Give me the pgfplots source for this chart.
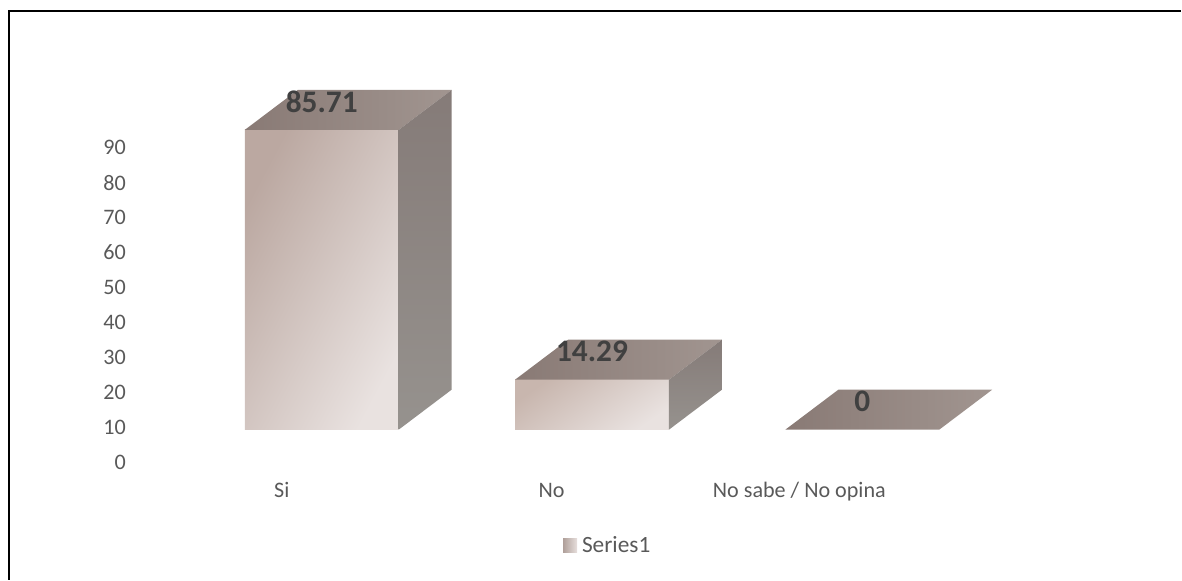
\documentclass[border=0pt]{standalone}
\usepackage{pgfplots}
\usepackage{fontspec}
\setmainfont{Carlito}
\pgfplotsset{compat=1.18}
\definecolor{ticktext}{HTML}{595959}
\definecolor{labeltext}{HTML}{404040}
\definecolor{legendA}{HTML}{B0A09A}
\definecolor{legendB}{HTML}{E8E0DE}
\definecolor{frontA}{HTML}{BBA8A1}
\definecolor{frontB}{HTML}{E9E2E0}
\definecolor{frontC}{HTML}{C8B6AE}
\definecolor{topA}{HTML}{897A75}
\definecolor{topB}{HTML}{A19590}
\definecolor{sideA}{HTML}{857B78}
\definecolor{sideB}{HTML}{96928E}
\begin{document}
\begin{tikzpicture}[x=1pt,y=1pt]
\begin{axis}[
  at={(0,0)}, anchor=south west,
  scale only axis, width=886.5pt, height=435pt,
  xmin=-1.1904, xmax=3.1793, ymin=-42.857, ymax=122.857,
  axis line style={draw=none}, tick style={draw=none},
  major tick length=0pt,
  clip=false,
  xtick={-0.148,0.850,1.767},
  xticklabels={Si,No,No sabe / No opina},
  ytick={0,10,...,90},
  tick label style={font=\fontsize{16.6}{20}\selectfont, text=ticktext},
  /pgf/number format/assume math mode=true,
  xticklabel style={anchor=base, yshift=61.5pt},
  yticklabel style={anchor=east, xshift=98pt, yshift=-24.6pt},
  legend style={at={(rel axis cs:0.5158,0.0586)}, anchor=center, draw=none, fill=none,
    font=\fontsize{17.5}{20}\selectfont, text=ticktext, inner sep=0pt,
    nodes={inner xsep=3.6pt}},
  legend cell align=left,
  legend image code/.code={
    \shade[left color=legendA, right color=legendB]
      (0pt,-5.2pt) rectangle (10.5pt,5.2pt);
  },
]

% frame along the top and left edges
\draw[black, line width=1.4pt] (rel axis cs:0.0076,0) -- (rel axis cs:0.0076,0.981) -- (rel axis cs:1,0.981);

% Si: front, top and side faces
\addplot[draw=none, shade, shading=axis, top color=frontA, bottom color=frontB, shading angle=62]
  coordinates {(-0.2847,0) (0.2847,0) (0.2847,85.71) (-0.2847,85.71) (-0.2847,0)};
\addlegendentry{Series1}
\addplot[forget plot, draw=none, left color=topA, right color=topB]
  coordinates {(-0.2847,85.71) (0.2847,85.71) (0.4806,97.14) (-0.0887,97.14) (-0.2847,85.71)};
\addplot[forget plot, draw=none, top color=sideA, bottom color=sideB]
  coordinates {(0.2847,0) (0.4806,11.43) (0.4806,97.14) (0.2847,85.71) (0.2847,0)};

% No: front, top and side faces
\addplot[forget plot, draw=none, shade, shading=axis, top color=frontC, bottom color=frontB, shading angle=35]
  coordinates {(0.7153,0) (1.2847,0) (1.2847,14.29) (0.7153,14.29) (0.7153,0)};
\addplot[forget plot, draw=none, left color=topA, right color=topB]
  coordinates {(0.7153,14.29) (1.2847,14.29) (1.4806,25.72) (0.9113,25.72) (0.7153,14.29)};
\addplot[forget plot, draw=none, top color=sideA, bottom color=sideB]
  coordinates {(1.2847,0) (1.4806,11.43) (1.4806,25.72) (1.2847,14.29) (1.2847,0)};

% No sabe / No opina: only the top face remains at zero height
\addplot[forget plot, draw=none, left color=topA, right color=topB]
  coordinates {(1.7153,0) (2.2847,0) (2.4806,11.43) (1.9113,11.43) (1.7153,0)};

% value labels
\addplot[forget plot, draw=none, point meta=y,
  nodes near coords={\pgfmathprintnumber[precision=2,assume math mode=true]{\pgfplotspointmeta}},
  nodes near coords style={anchor=center, yshift=21pt, font=\bfseries\fontsize{23.5}{26}\selectfont, text=labeltext}]
  coordinates {(0,85.71) (1,14.29) (2,0)};
\end{axis}
\end{tikzpicture}
\end{document}
